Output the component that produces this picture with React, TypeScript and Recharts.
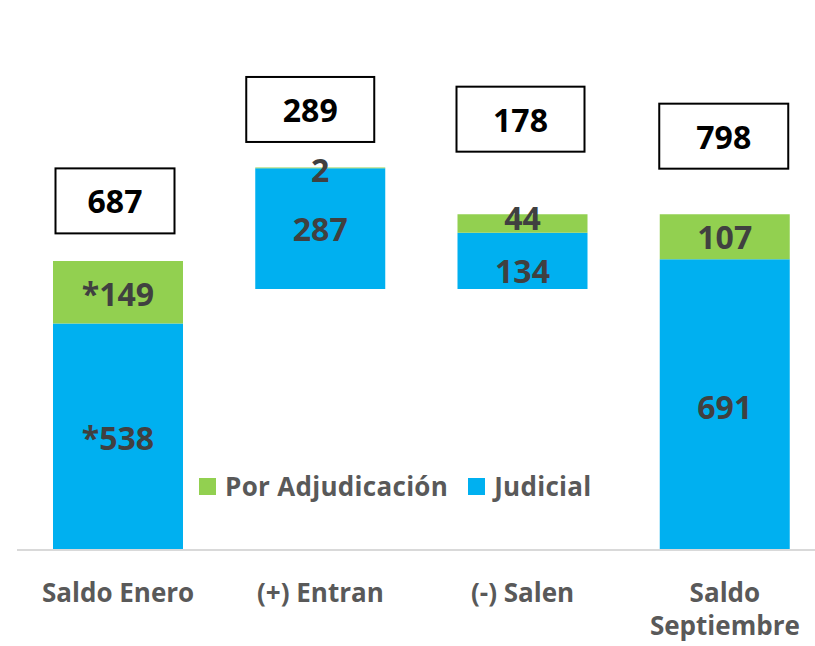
import { BarChart, Bar, XAxis, YAxis, LabelList } from 'recharts'

const categories = ['Saldo Enero', '(+) Entran', '(-) Salen', 'Saldo Septiembre']
const base = [0, 620, 620, 0]
const judicial = [538, 287, 134, 691]
const adjudicacion = [149, 2, 44, 107]
const totals = [687, 289, 178, 798]
const judicialLabels = ['*538', '287', '134', '691']
const adjudicacionLabels = ['*149', '2', '44', '107']

// where each total box sits relative to the top of its bar (px)
const boxDx = [-3, -10, -2, -1]
const boxDy = [60, 58, 95, 78]
const boxW = [119, 128, 128, 129]
const boxH = 65
// small nudges so the labels on the thin Salen segments don't collide
const judicialDy = [1, 0, 10, 2]
const adjudicacionDy = [1, 2, -6, 0]

const BLUE = '#00B0F0'
const GREEN = '#92D050'
const FONT = '"Open Sans", sans-serif'
const TICK_FONT = `700 26px ${FONT}`

const data = categories.map((name, i) => ({
  name,
  base: base[i],
  judicial: judicial[i],
  adjudicacion: adjudicacion[i],
  total: totals[i],
  judicialLabel: judicialLabels[i],
  adjudicacionLabel: adjudicacionLabels[i],
}))

let ctx: CanvasRenderingContext2D | null = null
function measure(s: string) {
  if (!ctx) ctx = document.createElement('canvas').getContext('2d')
  if (!ctx) return s.length * 14
  ctx.font = TICK_FONT
  return ctx.measureText(s).width
}

// wrap like Excel does when a category label is wider than its slot
function wrap(label: string, maxWidth: number) {
  const words = label.split(' ')
  const lines: string[] = []
  let cur = ''
  for (const w of words) {
    const next = cur ? cur + ' ' + w : w
    if (cur && measure(next) > maxWidth) {
      lines.push(cur)
      cur = w
    } else {
      cur = next
    }
  }
  if (cur) lines.push(cur)
  return lines
}

function TotalBox(props: any) {
  const { x, y, width, value } = props
  const i = props.index ?? totals.indexOf(value)
  const cx = x + width / 2 + boxDx[i]
  const cy = y - boxDy[i]
  return (
    <g>
      <rect x={cx - boxW[i] / 2} y={cy - boxH / 2} width={boxW[i]} height={boxH} fill="#fff" stroke="#000" strokeWidth={2} />
      <text x={cx} y={cy} textAnchor="middle" dominantBaseline="central" fontFamily={FONT} fontWeight={700} fontSize={32} fill="#000">
        {value}
      </text>
    </g>
  )
}

const makeSegmentLabel = (labels: string[], dys: number[]) => (props: any) => {
  const { x, y, width, height, value } = props
  const i = props.index ?? labels.indexOf(value)
  return (
    <text
      x={x + width / 2}
      y={y + height / 2 + dys[i]}
      textAnchor="middle"
      dominantBaseline="central"
      fontFamily={FONT}
      fontWeight={700}
      fontSize={32}
      fill="#404040"
    >
      {value}
    </text>
  )
}

function CategoryTick(props: any) {
  const { x, y, payload } = props
  const lines = wrap(String(payload.value), 180)
  return (
    <text x={x} y={y} textAnchor="middle" fontFamily={FONT} fontWeight={700} fontSize={26} fill="#595959">
      {lines.map((line, k) => (
        <tspan key={k} x={x} dy={k === 0 ? 19 : 33}>
          {line}
        </tspan>
      ))}
    </text>
  )
}

const legendItems = [
  { label: 'Por Adjudicación', color: GREEN },
  { label: 'Judicial', color: BLUE },
]

export default function App() {
  return (
    <div style={{ position: 'absolute', top: 0, left: 0, width: 815, height: 646, overflow: 'hidden', background: '#fff' }}>
      <BarChart width={826} height={646} data={data} margin={{ top: 45, right: 0, left: 17, bottom: 0 }} barSize={130}>
        <YAxis hide domain={[0, 1200]} />
        <XAxis
          dataKey="name"
          height={96}
          axisLine={{ stroke: '#d9d9d9', strokeWidth: 2 }}
          tickLine={false}
          tickMargin={27}
          interval={0}
          tick={<CategoryTick />}
        />
        <Bar dataKey="base" stackId="a" fill="transparent" isAnimationActive={false} />
        <Bar dataKey="judicial" stackId="a" fill={BLUE} isAnimationActive={false}>
          <LabelList dataKey="judicialLabel" content={makeSegmentLabel(judicialLabels, judicialDy)} />
        </Bar>
        <Bar dataKey="adjudicacion" stackId="a" fill={GREEN} isAnimationActive={false}>
          <LabelList dataKey="adjudicacionLabel" content={makeSegmentLabel(adjudicacionLabels, adjudicacionDy)} />
          <LabelList dataKey="total" content={<TotalBox />} />
        </Bar>
      </BarChart>
      <div
        style={{
          position: 'absolute',
          left: 199,
          top: 468,
          display: 'flex',
          alignItems: 'center',
          gap: 20,
          fontFamily: FONT,
          fontWeight: 700,
          fontSize: 26,
          color: '#595959',
          whiteSpace: 'nowrap',
        }}
      >
        {legendItems.map((item) => (
          <div key={item.label} style={{ display: 'flex', alignItems: 'center', gap: 9 }}>
            <span style={{ display: 'inline-block', width: 17, height: 17, background: item.color }} />
            <span style={{ letterSpacing: 0.3 }}>{item.label}</span>
          </div>
        ))}
      </div>
    </div>
  )
}
